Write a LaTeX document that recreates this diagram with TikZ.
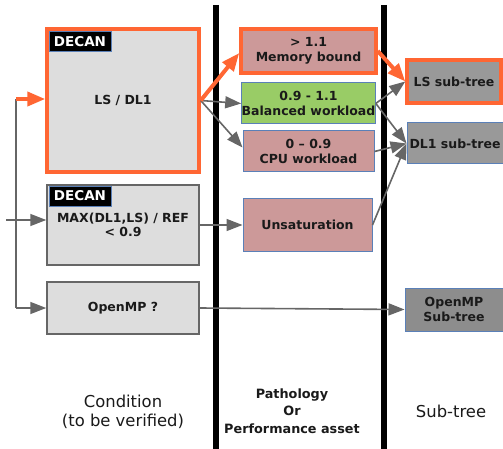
\documentclass[tikz,border=0pt]{standalone}
\usepackage{fontspec}
\setmainfont{DejaVu Sans}
\usetikzlibrary{arrows.meta,calc}
\definecolor{orng}{HTML}{FF6633}
\definecolor{rose}{HTML}{CC9999}
\definecolor{grn}{HTML}{99CC66}
\definecolor{lgray}{HTML}{DDDDDD}
\definecolor{dgray}{HTML}{999999}
\definecolor{bluebd}{HTML}{5A80B8}
\definecolor{graybd}{HTML}{666666}
\definecolor{txt}{HTML}{1A1A1A}
\begin{document}
\begin{tikzpicture}[x=1pt,y=-1pt,
  box/.style={rectangle,inner sep=0pt,align=center,text=txt,
    font=\fontsize{12.5}{15}\selectfont\bfseries},
  condbox/.style={box,fill=lgray,draw=graybd,line width=1.5pt},
  hotbox/.style={box,draw=orng,line width=3.5pt},
  bluebox/.style={box,draw=bluebd,line width=1pt},
  decan/.style={rectangle,inner sep=0pt,fill=black,draw=bluebd,line width=0.8pt,
    text=white,font=\fontsize{13.5}{15}\selectfont\bfseries,minimum width=62pt,minimum height=20pt},
  bar/.style={line width=6pt,black},
  garrow/.style={draw=graybd,line width=1.6pt,-{Triangle[length=16pt,width=12pt]}},
  oarrow/.style={draw=orng,line width=4pt,-{Triangle[length=18pt,width=14pt]}},
  collabel/.style={align=center,text=txt,font=\fontsize{16.4}{19}\selectfont},
  collabelb/.style={align=center,text=txt,font=\fontsize{12.8}{17.5}\selectfont\bfseries}]
\useasboundingbox (0,0) rectangle (503,449);
% bars
\draw[bar] (216,5) -- (216,449);
\draw[bar] (384,5) -- (384,449);
% condition boxes
\node[hotbox,fill=lgray,minimum width=152pt,minimum height=143pt] (lsdl) at (123,100.5) {LS / DL1};
\node[decan] (dec1) at (80,41.5) {DECAN};
\node[condbox,minimum width=152pt,minimum height=80pt] (maxb) at (123,225) {MAX(DL1,LS) / REF\\[-1pt]< 0.9};
\node[decan] (dec2) at (80,196) {DECAN};
\node[condbox,minimum width=152pt,minimum height=52pt] (omp) at (123,308) {OpenMP ?};
% pathology boxes
\node[hotbox,fill=rose,minimum width=135pt,minimum height=44pt] (mem) at (308.5,51) {> 1.1\\Memory bound};
\node[bluebox,fill=grn,minimum width=131pt,minimum height=41pt] (bal) at (308.5,103.5) {0.9 - 1.1\\Balanced workload};
\node[bluebox,fill=rose,minimum width=131pt,minimum height=41pt] (cpu) at (308.5,151.5) {0 – 0.9\\CPU workload};
\node[bluebox,fill=rose,minimum width=129pt,minimum height=52pt] (uns) at (307.5,225) {Unsaturation};
% subtrees
\node[hotbox,fill=dgray,minimum width=94pt,minimum height=43pt] (lss) at (454,81.5) {LS sub-tree};
\node[bluebox,fill=dgray,minimum width=96pt,minimum height=41pt] (dls) at (455,143.5) {DL1 sub-tree};
\node[bluebox,fill=dgray!92!black,minimum width=98pt,minimum height=43pt] (omps) at (454,309.5) {OpenMP\\Sub-tree};
% left connectors
\coordinate (ltop) at (16,99);
\coordinate (lbot) at (16,308);
\coordinate (lin) at (6,220);
\draw[graybd,line width=1.6pt] (ltop) -- (lbot);
\draw[garrow] (lbot) -- (omp.west);
\draw[oarrow] (ltop) -- (ltop -| lsdl.west);
\draw[garrow] (lin) -- (lin -| maxb.west);
% fan from LS/DL1
\draw[garrow] (lsdl.east) -- (bal.west);
\draw[garrow] (lsdl.east) -- ($(cpu.west)+(0,-4)$);
\draw[oarrow] (lsdl.east) -- ($(mem.west)+(0,2)$);
% to subtrees
\draw[oarrow] (mem.east) -- (lss.west);
\draw[garrow] (bal.east) -- (lss.west);
\draw[garrow] (bal.east) -- (dls.west);
\draw[garrow] (cpu.east) -- (dls.west);
\draw[garrow] (uns.east) -- (dls.west);
\draw[garrow] (maxb.east) -- (uns.west);
\draw[garrow] (omp.east) -- (omps.west);
% column labels
\node[collabel] (lcond) at (123,412) {Condition\\(to be verified)};
\node[collabelb] (lpath) at (292,411) {Pathology\\Or\\Performance asset};
\node[collabel] (lsub) at (451,411) {Sub-tree};
\end{tikzpicture}
\end{document}
